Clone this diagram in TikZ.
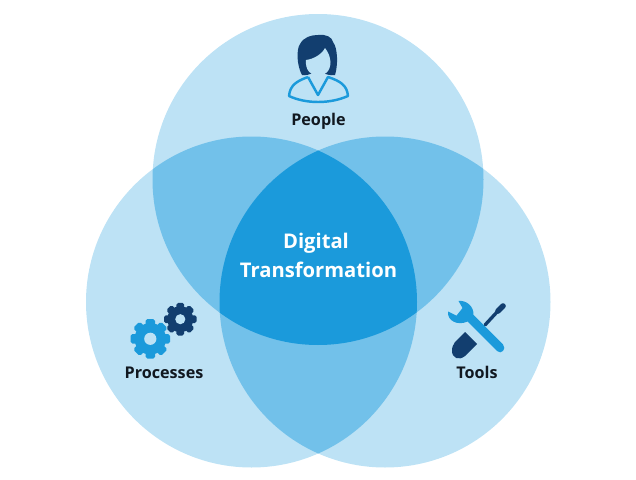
\documentclass[tikz,border=0pt]{standalone}
\usepackage{fontspec}
\setmainfont{Open Sans}
\definecolor{lightblue}{HTML}{BDE2F5}
\definecolor{midblue}{HTML}{72C1EA}
\definecolor{coreblue}{HTML}{1B9ADB}
\definecolor{navyblue}{HTML}{123E6F}
\definecolor{labelblack}{HTML}{111820}
\newcommand{\circleTop}{(318,179.5) circle (165.5)}
\newcommand{\circleLeft}{(251.5,302) circle (165.5)}
\newcommand{\circleRight}{(385,302) circle (165.5)}
\newcommand{\gearicon}[4]{%
  \begin{scope}[shift={(#1,#2)}]
    \fill[#4] (0,0) circle (#3*0.8);
    \foreach \a in {0,45,...,315} {
      \fill[#4, rotate=\a, rounded corners=1pt] (#3*0.6,-#3*0.24) rectangle (#3,#3*0.24);
    }
    \fill[lightblue] (0,0) circle (#3*0.31);
  \end{scope}}
\tikzset{
  label/.style={anchor=base, font=\bfseries\fontsize{9.2}{11}\selectfont, text=labelblack},
  core/.style={anchor=base, font=\bfseries\fontsize{11.5}{14}\selectfont, text=white}
}
\begin{document}
\begin{tikzpicture}[x=0.02cm, y=-0.02cm]
  \useasboundingbox (0,0) rectangle (636,480);

  \fill[lightblue] \circleTop;
  \fill[lightblue] \circleLeft;
  \fill[lightblue] \circleRight;

  % pairs
  \begin{scope}
    \clip \circleTop;
    \fill[midblue] \circleLeft;
    \fill[midblue] \circleRight;
  \end{scope}
  \begin{scope}
    \clip \circleLeft;
    \fill[midblue] \circleRight;
  \end{scope}
  % all three
  \begin{scope}
    \clip \circleTop;
    \clip \circleLeft;
    \fill[coreblue] \circleRight;
  \end{scope}

  \node[core] (digital) at (316,248) {Digital};
  \node[core] (transformation) at (318.5,277) {Transformation};
  \node[label] (people) at (318.5,125) {People};
  \node[label] (processes) at (164,378) {Processes};
  \node[label] (tools) at (477,378) {Tools};

  % person
  \draw[coreblue, line width=1.4pt, line join=round] (308,77) -- (318,95) -- (328,77)
    .. controls (340,81) and (347,85) .. (348,96)
    .. controls (330,104) and (306,104) .. (289,96)
    .. controls (290,85) and (297,81) .. (308,77);
  \fill[navyblue] (318,35)
    .. controls (326,34) and (332,37) .. (333,42)
    .. controls (338,48) and (338,66) .. (335,75)
    .. controls (330,76) and (326,74) .. (323,73)
    -- (313,73)
    .. controls (310,74) and (306,76) .. (302,75)
    .. controls (297,66) and (296,50) .. (300,44)
    .. controls (304,37) and (311,35) .. (318,35);
  \fill[lightblue] (306,60)
    .. controls (314,59) and (322,54) .. (325,48)
    .. controls (328,52) and (330,56) .. (330.5,62)
    .. controls (330.5,71) and (325,76) .. (318,76)
    .. controls (311,76) and (305,70) .. (306,60);

  % gears
  \gearicon{150.3}{338.8}{19.7}{coreblue}
  \gearicon{180.3}{319.2}{16.3}{navyblue}

  % screwdriver
  \draw[navyblue, line width=1.9pt, line cap=round] (485,325) -- (497,312);
  \draw[navyblue, line width=3.2pt, line cap=round] (498,311) -- (503,306);
  \fill[navyblue] (465,332) -- (477,344) -- (465,356)
    .. controls (459,361) and (452,358) .. (452,351)
    .. controls (452,347) and (453,345) .. (455,342) -- cycle;

  % wrench
  \fill[coreblue] (458.5,301)
    .. controls (466,300) and (474,306) .. (473.5,315)
    -- (503,344.5)
    .. controls (507,349) and (501,355) .. (497,351)
    -- (467.5,321.5)
    .. controls (458,326) and (447,321) .. (448,311.5)
    -- (456.5,315.7) -- (462.5,308) -- cycle;
\end{tikzpicture}
\end{document}
